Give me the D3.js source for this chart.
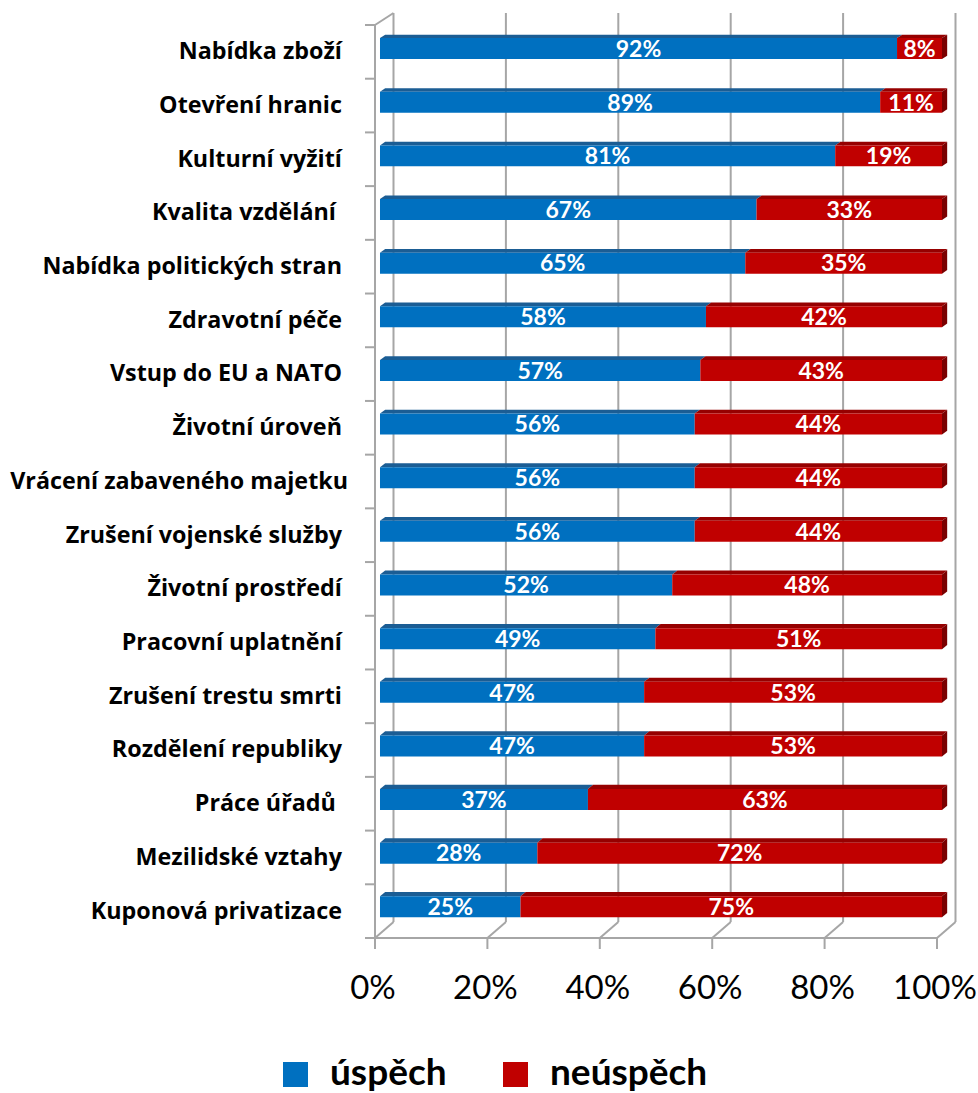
<!DOCTYPE html>
<html><head><meta charset="utf-8">
<script src="https://cdn.jsdelivr.net/npm/d3@7"></script>
<style>
body{margin:0;background:#fff;}
svg{display:block;font-family:Lato,"Open Sans",sans-serif;}
</style></head>
<body><svg id="c" width="978" height="1093"></svg>
<script>
const categories = ["Nabídka zboží ","Otevření hranic ","Kulturní vyžití ","Kvalita vzdělání  ","Nabídka politických stran ","Zdravotní péče ","Vstup do EU a NATO ","Životní úroveň ","Vrácení zabaveného majetku","Zrušení vojenské služby ","Životní prostředí ","Pracovní uplatnění ","Zrušení trestu smrti ","Rozdělení republiky ","Práce úřadů  ","Mezilidské vztahy ","Kuponová privatizace "];
const uspech   = [92,89,81,67,65,58,57,56,56,56,52,49,47,47,37,28,25];
const neuspech = [8,11,19,33,35,42,43,44,44,44,48,51,53,53,63,72,75];
const seriesNames = ["úspěch","neúspěch"];
const xTicks = [0,20,40,60,80,100];

const front = {"úspěch":"#0070C0","neúspěch":"#C00000"};
const topC  = {"úspěch":"#1b5d94","neúspěch":"#960000"};
const sideC = {"úspěch":"#0b4c82","neúspěch":"#7a0000"};

const svg = d3.select("#c");
const x = d3.scaleLinear().domain([0,100]).range([375,937]);
const y = d3.scaleBand().domain(categories).range([25,938]).paddingInner(0).paddingOuter(0);
const DX = 18.5;
const DY = yf => 12 + 4*(yf-25)/913;
const P = (v,yf,d) => [x(v)+d*DX, yf - d*DY(yf)];
const pts = a => a.map(p=>p.join(",")).join(" ");
const grid = "#a6a6a6";

// back wall gridlines, floor diagonals, ticks
xTicks.forEach(t=>{
  const a=P(t,938,1), b=P(t,25,1);
  svg.append("line").attr("x1",a[0]).attr("y1",a[1]).attr("x2",b[0]).attr("y2",b[1]).attr("stroke",grid).attr("stroke-width",2);
  const f=P(t,938,0);
  svg.append("line").attr("x1",f[0]).attr("y1",f[1]).attr("x2",a[0]).attr("y2",a[1]).attr("stroke",grid).attr("stroke-width",2);
  svg.append("line").attr("x1",f[0]).attr("y1",938).attr("x2",f[0]).attr("y2",949).attr("stroke",grid).attr("stroke-width",2);
});
{const a=P(0,25,0), b=P(0,25,1);
 svg.append("line").attr("x1",a[0]).attr("y1",a[1]).attr("x2",b[0]).attr("y2",b[1]).attr("stroke",grid).attr("stroke-width",2);}
svg.append("line").attr("x1",x(0)).attr("y1",25).attr("x2",x(0)).attr("y2",938).attr("stroke",grid).attr("stroke-width",2);
svg.append("line").attr("x1",x(0)-10).attr("y1",938).attr("x2",x(100)).attr("y2",938).attr("stroke",grid).attr("stroke-width",2);
categories.concat([null]).forEach((c,i)=>{
  const yy = c===null ? 938 : y(c);
  svg.append("line").attr("x1",x(0)-10).attr("y1",yy).attr("x2",x(0)).attr("y2",yy).attr("stroke",grid).attr("stroke-width",2);
});

// bars
const d0=0.27, d1=0.55, h=10.5;
const stackData = categories.map((c,i)=>({cat:c, "úspěch":uspech[i], "neúspěch":neuspech[i]}));
const stack = d3.stack().keys(seriesNames)(stackData);
categories.forEach((c,i)=>{
  const cy = y(c)+y.bandwidth()/2;
  const g = svg.append("g");
  stack.forEach((s,si)=>{
    const v0=s[i][0], v1=s[i][1], k=s.key;
    g.append("polygon").attr("points",pts([P(v0,cy-h,d0),P(v1,cy-h,d0),P(v1,cy-h,d1),P(v0,cy-h,d1)])).attr("fill",topC[k]);
    g.append("polygon").attr("points",pts([P(v0,cy-h,d0),P(v1,cy-h,d0),P(v1,cy+h,d0),P(v0,cy+h,d0)])).attr("fill",front[k]);
    if(si===stack.length-1){
      g.append("polygon").attr("points",pts([P(v1,cy-h,d0),P(v1,cy-h,d1),P(v1,cy+h,d1),P(v1,cy+h,d0)])).attr("fill",sideC[k]);
    }
  });
  stack.forEach((s,si)=>{
    const v0=s[i][0], v1=s[i][1];
    const m = P((v0+v1)/2, cy, d0);
    g.append("text").attr("x",m[0]).attr("y",m[1]).attr("dy","0.36em").attr("text-anchor","middle")
      .attr("fill","#fff").attr("font-weight","bold").attr("font-size",23).text((v1-v0)+"%");
  });
});

// category labels
svg.append("g").selectAll("text").data(categories).join("text")
  .attr("x",348).attr("y",d=>y(d)+y.bandwidth()/2-1).attr("dy","0.36em").attr("text-anchor","end")
  .style("font-family","'Open Sans',sans-serif")
  .attr("font-weight","bold").attr("font-size",23.3).attr("fill","#000").style("white-space","pre").text(d=>d);

// x tick labels
svg.append("g").selectAll("text").data(xTicks).join("text")
  .attr("x",d=>x(d)-2).attr("y",999).attr("text-anchor","middle").attr("font-size",33).attr("fill","#000").text(d=>d+"%");

// legend
const leg = [{k:"úspěch",sx:283,tx:330},{k:"neúspěch",sx:503,tx:550}];
leg.forEach(l=>{
  svg.append("rect").attr("x",l.sx).attr("y",1062).attr("width",25).attr("height",25).attr("fill",front[l.k]);
  svg.append("text").attr("x",l.tx).attr("y",1085).attr("font-size",37).attr("font-weight","bold").attr("fill","#000").text(l.k);
});
</script></body></html>
